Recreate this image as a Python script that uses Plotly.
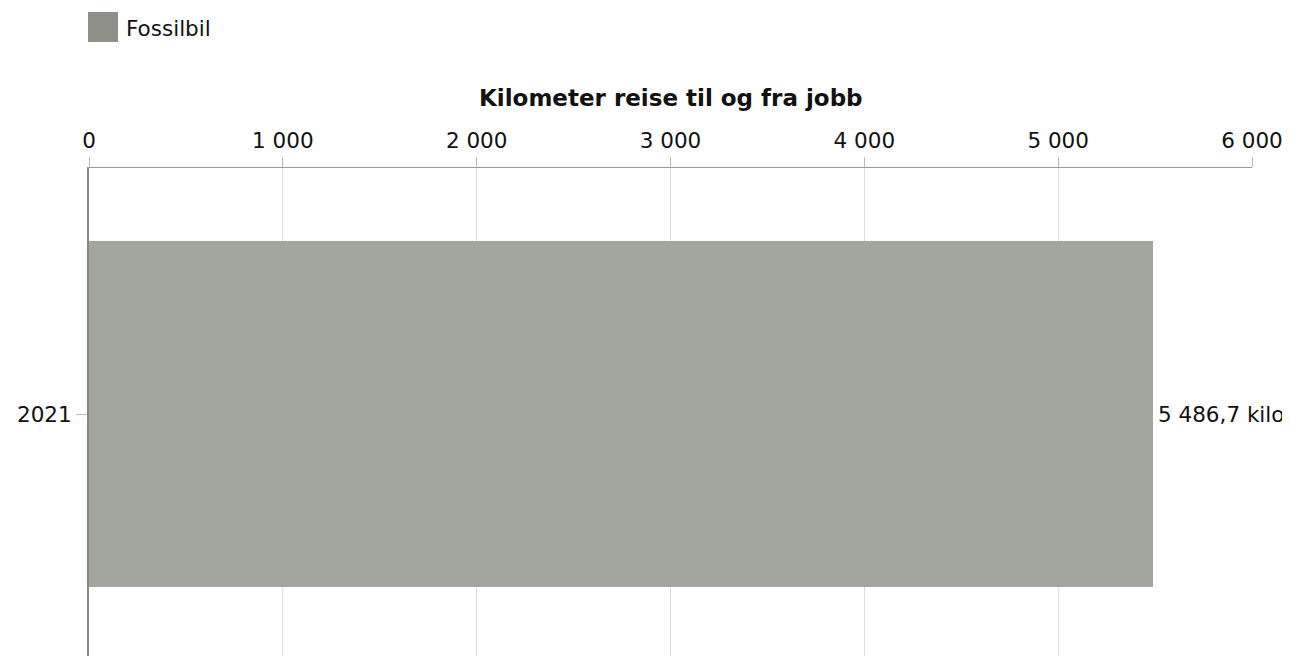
import plotly.graph_objects as go

categories = ["2021"]
values = [5486.7]
value_labels = ["5 486,7 kilo"]
series_name = "Fossilbil"
x_ticks = [0, 1000, 2000, 3000, 4000, 5000, 6000]
x_tick_labels = ["0", "1 000", "2 000", "3 000", "4 000", "5 000", "6 000"]
title = "Kilometer reise til og fra jobb"

# The page body has an 8px default margin; the figure is sized/placed to compensate.
OFF = 8
W, H = 1290 - OFF, 656 - OFF
L = 89 - OFF
T = 168 - OFF
R = (1290 - OFF) - (1252 - OFF)
B = 0
plot_h = H - T - B
plot_w = W - L - R

font = "DejaVu Sans, Verdana, sans-serif"


def px_x(page_x):
    return (page_x - OFF - L) / plot_w


def px_y(page_y):
    return (H - (page_y - OFF)) / plot_h


fig = go.Figure()
fig.add_trace(go.Bar(
    x=values, y=list(range(len(categories))), orientation="h",
    marker=dict(color="#a3a59f", line=dict(width=0)),
    width=346 / plot_h, showlegend=False, hoverinfo="x",
))

for i, (v, lab) in enumerate(zip(values, value_labels)):
    fig.add_annotation(x=v, y=i, xref="x", yref="y", text=lab, showarrow=False,
                       xanchor="left", yanchor="middle", xshift=3,
                       font=dict(family=font, size=21.5, color="#111"))

# Legend (drawn manually for a large swatch)
fig.add_shape(type="rect", xref="paper", yref="paper",
              x0=px_x(88), x1=px_x(118), y0=px_y(42), y1=px_y(12),
              fillcolor="#8f9189", line=dict(width=0))
fig.add_annotation(xref="paper", yref="paper", x=px_x(124), y=px_y(28),
                   text=series_name, showarrow=False, xanchor="left", yanchor="middle",
                   font=dict(family=font, size=21.5, color="#111"))

fig.add_annotation(xref="paper", yref="paper", x=0.5, y=px_y(98),
                   text="<b>" + title + "</b>", showarrow=False, xanchor="center", yanchor="middle",
                   font=dict(family=font, size=23, color="#111"))

fig.update_layout(
    width=W, height=H,
    margin=dict(l=L, r=R, t=T, b=B),
    paper_bgcolor="white", plot_bgcolor="white",
    font=dict(family=font, size=21.5, color="#111"),
    bargap=0,
)
fig.update_xaxes(
    side="top", range=[0, 6000], tickvals=x_ticks, ticktext=x_tick_labels,
    showgrid=True, gridcolor="#dedede", gridwidth=1,
    showline=True, linecolor="#999", linewidth=1,
    ticks="outside", ticklen=10, tickcolor="#bbb",
    zeroline=False, fixedrange=True,
)
a = -(656 - 414) / plot_h
fig.update_yaxes(
    range=[a, a + 1], tickvals=list(range(len(categories))), ticktext=categories,
    showgrid=False, showline=True, linecolor="#888", linewidth=2,
    ticks="outside", ticklen=11, tickcolor="#bbb",
    zeroline=False, fixedrange=True,
)

fig.write_html("out.html")
